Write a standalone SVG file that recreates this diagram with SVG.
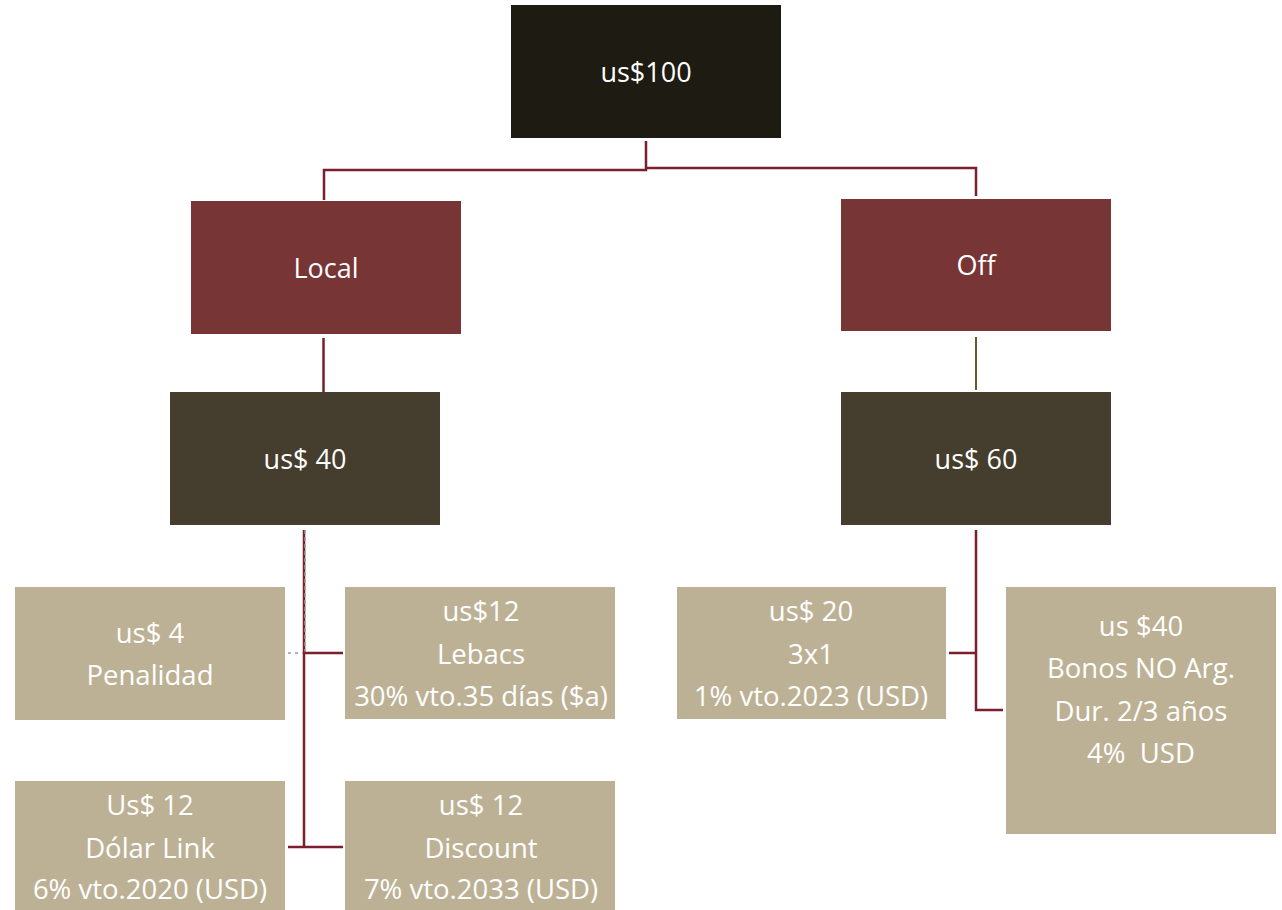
<svg xmlns="http://www.w3.org/2000/svg" width="1282" height="910" viewBox="0 0 1282 910">
<style>
.t{font-family:"Open Sans","DejaVu Sans",sans-serif;fill:#ffffff;text-anchor:middle;dominant-baseline:central}
.big{font-size:27px}
.sm{font-size:27.5px}
.c{fill:none;stroke:#7a1f2e;stroke-width:2.5}
.leaf{fill:#bdb195}
</style>
<rect width="1282" height="910" fill="#ffffff"/>
<g id="connectors">
<polyline class="c" points="646,141 646,170 324,170 324,200"/>
<polyline class="c" points="646,168 976,168 976,196"/>
<line class="c" x1="323.5" y1="338" x2="323.5" y2="392"/>
<line x1="976" y1="337" x2="976" y2="390" stroke="#6b5530" stroke-width="2"/>
<line class="c" x1="304" y1="530" x2="304" y2="848"/>
<line x1="305" y1="530" x2="305" y2="653" stroke="#9a9a9a" stroke-width="1.5" stroke-dasharray="4,3"/>
<line class="c" x1="304" y1="653" x2="343" y2="653"/>
<line x1="288" y1="653" x2="303" y2="653" stroke="#9a9a9a" stroke-width="1.5" stroke-dasharray="3,4"/>
<line class="c" x1="288" y1="847" x2="343" y2="847"/>
<polyline class="c" points="976,530 976,710 1003,710"/>
<line class="c" x1="949" y1="653" x2="976" y2="653"/>
</g>
<g id="n100"><rect x="511" y="5" width="270" height="133" fill="#1e1b13"/><text class="t big" x="646" y="71">us$100</text></g>
<g id="local"><rect x="191" y="201" width="270" height="133" fill="#773535"/><text class="t big" x="326" y="267">Local</text></g>
<g id="off"><rect x="841" y="199" width="270" height="132" fill="#773535"/><text class="t big" x="976" y="264">Off</text></g>
<g id="us40"><rect x="170" y="392" width="270" height="133" fill="#453d2d"/><text class="t big" x="305" y="458">us$ 40</text></g>
<g id="us60"><rect x="841" y="392" width="270" height="133" fill="#453d2d"/><text class="t big" x="976" y="458">us$ 60</text></g>
<g id="pen"><rect class="leaf" x="15" y="587" width="270" height="133"/><text class="t sm" x="150" y="632">us$ 4</text><text class="t sm" x="150" y="674">Penalidad</text></g>
<g id="leb"><rect class="leaf" x="345" y="587" width="270" height="132"/><text class="t sm" x="481" y="610">us$12</text><text class="t sm" x="481" y="653">Lebacs</text><text class="t sm" x="481" y="695">30% vto.35 días ($a)</text></g>
<g id="x31"><rect class="leaf" x="677" y="587" width="269" height="132"/><text class="t sm" x="811" y="610">us$ 20</text><text class="t sm" x="811" y="653">3x1</text><text class="t sm" x="811" y="695">1% vto.2023 (USD)</text></g>
<g id="bonos"><rect class="leaf" x="1006" y="587" width="270" height="247"/><text class="t sm" x="1141" y="625">us $40</text><text class="t sm" x="1141" y="667">Bonos NO Arg.</text><text class="t sm" x="1141" y="710">Dur. 2/3 años</text><text class="t sm" x="1141" y="752" style="white-space:pre">4%  USD</text></g>
<g id="dolar"><rect class="leaf" x="15" y="781" width="270" height="129"/><text class="t sm" x="150" y="804">Us$ 12</text><text class="t sm" x="150" y="847">Dólar Link</text><text class="t sm" x="150" y="888">6% vto.2020 (USD)</text></g>
<g id="disc"><rect class="leaf" x="345" y="781" width="270" height="129"/><text class="t sm" x="481" y="804">us$ 12</text><text class="t sm" x="481" y="847">Discount</text><text class="t sm" x="481" y="888">7% vto.2033 (USD)</text></g>
</svg>
